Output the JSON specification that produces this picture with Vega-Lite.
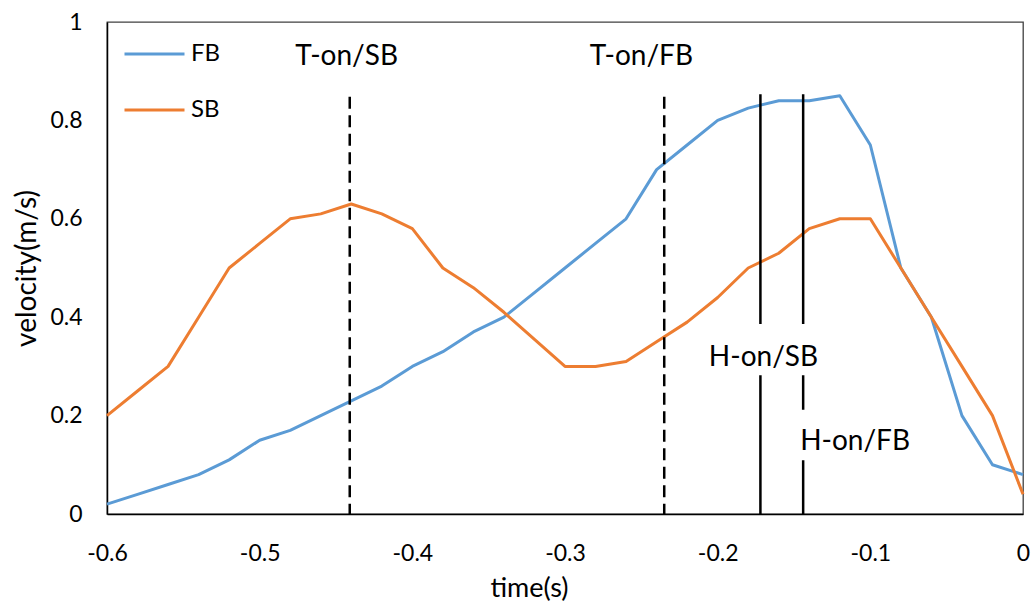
{
  "$schema": "https://vega.github.io/schema/vega-lite/v6.json",
  "width": 916,
  "height": 492,
  "autosize": {"type": "none"},
  "padding": {"left": 107, "top": 22, "right": 11, "bottom": 90},
  "background": "white",
  "config": {
    "font": "Lato",
    "view": {"stroke": "#404040", "strokeWidth": 1.3}
  },
  "encoding": {
    "x": {
      "field": "t",
      "type": "quantitative",
      "scale": {"domain": [-0.6, 0], "nice": false, "zero": false},
      "axis": {
        "values": [-0.6, -0.5, -0.4, -0.3, -0.2, -0.1, 0],
        "labelExpr": "'' + datum.value",
        "ticks": false,
        "tickSize": 0,
        "grid": false,
        "domainColor": "#000000",
        "domainWidth": 1.5,
        "labelFont": "Lato",
        "labelFontSize": 23,
        "labelColor": "#000000",
        "labelPadding": 28,
        "labelFlush": false,
        "labelOverlap": false,
        "labelBound": false,
        "title": "time(s)",
        "titleFont": "Lato",
        "titleFontSize": 27,
        "titleFontWeight": "normal",
        "titleColor": "#000000",
        "titleX": 422,
        "titleY": 74,
        "titleAlign": "center",
        "titleBaseline": "middle"
      }
    },
    "y": {
      "field": "v",
      "type": "quantitative",
      "scale": {"domain": [0, 1], "nice": false},
      "axis": {
        "values": [0, 0.2, 0.4, 0.6, 0.8, 1],
        "labelExpr": "'' + datum.value",
        "ticks": false,
        "tickSize": 0,
        "grid": false,
        "domainColor": "#000000",
        "domainWidth": 1.5,
        "labelFont": "Lato",
        "labelFontSize": 23,
        "labelColor": "#000000",
        "labelPadding": 25,
        "labelOverlap": false,
        "labelBound": false,
        "title": "velocity(m/s)",
        "titleFont": "Lato",
        "titleFontSize": 28,
        "titleFontWeight": "normal",
        "titleColor": "#000000",
        "titleAngle": -90,
        "titleX": -80,
        "titleY": 246,
        "titleAlign": "center",
        "titleBaseline": "middle"
      }
    }
  },
  "layer": [
    {
      "data": {
        "values": [
          {"series": "FB", "t": -0.60, "v": 0.02},
          {"series": "FB", "t": -0.58, "v": 0.04},
          {"series": "FB", "t": -0.56, "v": 0.06},
          {"series": "FB", "t": -0.54, "v": 0.08},
          {"series": "FB", "t": -0.52, "v": 0.11},
          {"series": "FB", "t": -0.50, "v": 0.15},
          {"series": "FB", "t": -0.48, "v": 0.17},
          {"series": "FB", "t": -0.46, "v": 0.20},
          {"series": "FB", "t": -0.44, "v": 0.23},
          {"series": "FB", "t": -0.42, "v": 0.26},
          {"series": "FB", "t": -0.40, "v": 0.30},
          {"series": "FB", "t": -0.38, "v": 0.33},
          {"series": "FB", "t": -0.36, "v": 0.37},
          {"series": "FB", "t": -0.34, "v": 0.40},
          {"series": "FB", "t": -0.32, "v": 0.45},
          {"series": "FB", "t": -0.30, "v": 0.50},
          {"series": "FB", "t": -0.28, "v": 0.55},
          {"series": "FB", "t": -0.26, "v": 0.60},
          {"series": "FB", "t": -0.24, "v": 0.70},
          {"series": "FB", "t": -0.22, "v": 0.75},
          {"series": "FB", "t": -0.20, "v": 0.80},
          {"series": "FB", "t": -0.18, "v": 0.825},
          {"series": "FB", "t": -0.16, "v": 0.84},
          {"series": "FB", "t": -0.14, "v": 0.84},
          {"series": "FB", "t": -0.12, "v": 0.85},
          {"series": "FB", "t": -0.10, "v": 0.75},
          {"series": "FB", "t": -0.08, "v": 0.50},
          {"series": "FB", "t": -0.06, "v": 0.40},
          {"series": "FB", "t": -0.04, "v": 0.20},
          {"series": "FB", "t": -0.02, "v": 0.10},
          {"series": "FB", "t": 0.00, "v": 0.08},
          {"series": "SB", "t": -0.60, "v": 0.20},
          {"series": "SB", "t": -0.58, "v": 0.25},
          {"series": "SB", "t": -0.56, "v": 0.30},
          {"series": "SB", "t": -0.54, "v": 0.40},
          {"series": "SB", "t": -0.52, "v": 0.50},
          {"series": "SB", "t": -0.50, "v": 0.55},
          {"series": "SB", "t": -0.48, "v": 0.60},
          {"series": "SB", "t": -0.46, "v": 0.61},
          {"series": "SB", "t": -0.44, "v": 0.63},
          {"series": "SB", "t": -0.42, "v": 0.61},
          {"series": "SB", "t": -0.40, "v": 0.58},
          {"series": "SB", "t": -0.38, "v": 0.50},
          {"series": "SB", "t": -0.36, "v": 0.46},
          {"series": "SB", "t": -0.34, "v": 0.41},
          {"series": "SB", "t": -0.32, "v": 0.355},
          {"series": "SB", "t": -0.30, "v": 0.30},
          {"series": "SB", "t": -0.28, "v": 0.30},
          {"series": "SB", "t": -0.26, "v": 0.31},
          {"series": "SB", "t": -0.24, "v": 0.35},
          {"series": "SB", "t": -0.22, "v": 0.39},
          {"series": "SB", "t": -0.20, "v": 0.44},
          {"series": "SB", "t": -0.18, "v": 0.50},
          {"series": "SB", "t": -0.16, "v": 0.53},
          {"series": "SB", "t": -0.14, "v": 0.58},
          {"series": "SB", "t": -0.12, "v": 0.60},
          {"series": "SB", "t": -0.10, "v": 0.60},
          {"series": "SB", "t": -0.08, "v": 0.50},
          {"series": "SB", "t": -0.06, "v": 0.40},
          {"series": "SB", "t": -0.04, "v": 0.30},
          {"series": "SB", "t": -0.02, "v": 0.20},
          {"series": "SB", "t": 0.00, "v": 0.04}
        ]
      },
      "mark": {"type": "line", "strokeWidth": 3, "strokeJoin": "round"},
      "encoding": {
        "color": {
          "field": "series",
          "type": "nominal",
          "scale": {"domain": ["FB", "SB"], "range": ["#5B9BD5", "#ED7D31"]},
          "legend": {
            "orient": "none",
            "legendX": 16,
            "legendY": 22,
            "title": null,
            "symbolType": "stroke",
            "symbolSize": 3600,
            "symbolStrokeWidth": 3,
            "clipHeight": 20,
            "rowPadding": 32,
            "labelFont": "Lato",
            "labelFontSize": 24,
            "labelColor": "#000000",
            "labelOffset": 5,
            "padding": 0
          }
        }
      }
    },
    {
      "data": {
        "values": [
          {"event": "T-on/SB", "kind": "T", "t": -0.441, "v": 0.848, "v_end": 0},
          {"event": "T-on/FB", "kind": "T", "t": -0.235, "v": 0.848, "v_end": 0},
          {"event": "H-on/SB", "kind": "H", "t": -0.172, "v": 0.853, "v_end": 0.386},
          {"event": "H-on/SB", "kind": "H", "t": -0.172, "v": 0.282, "v_end": 0},
          {"event": "H-on/FB", "kind": "H", "t": -0.144, "v": 0.853, "v_end": 0.386},
          {"event": "H-on/FB", "kind": "H", "t": -0.144, "v": 0.282, "v_end": 0.212},
          {"event": "H-on/FB", "kind": "H", "t": -0.144, "v": 0.109, "v_end": 0}
        ]
      },
      "mark": {"type": "rule", "strokeWidth": 2.5, "color": "#000000"},
      "encoding": {
        "y2": {"field": "v_end"},
        "strokeDash": {
          "field": "kind",
          "type": "nominal",
          "scale": {"domain": ["T", "H"], "range": [[12, 6.5], [1, 0]]},
          "legend": null
        }
      }
    },
    {
      "data": {
        "values": [
          {"label": "T-on/SB", "t": -0.443, "v": 0.929},
          {"label": "T-on/FB", "t": -0.25, "v": 0.929},
          {"label": "H-on/SB", "t": -0.170, "v": 0.318},
          {"label": "H-on/FB", "t": -0.110, "v": 0.146}
        ]
      },
      "mark": {"type": "text", "fontSize": 28, "font": "Lato", "align": "center", "baseline": "middle", "color": "#000000"},
      "encoding": {
        "text": {"field": "label"}
      }
    }
  ]
}
